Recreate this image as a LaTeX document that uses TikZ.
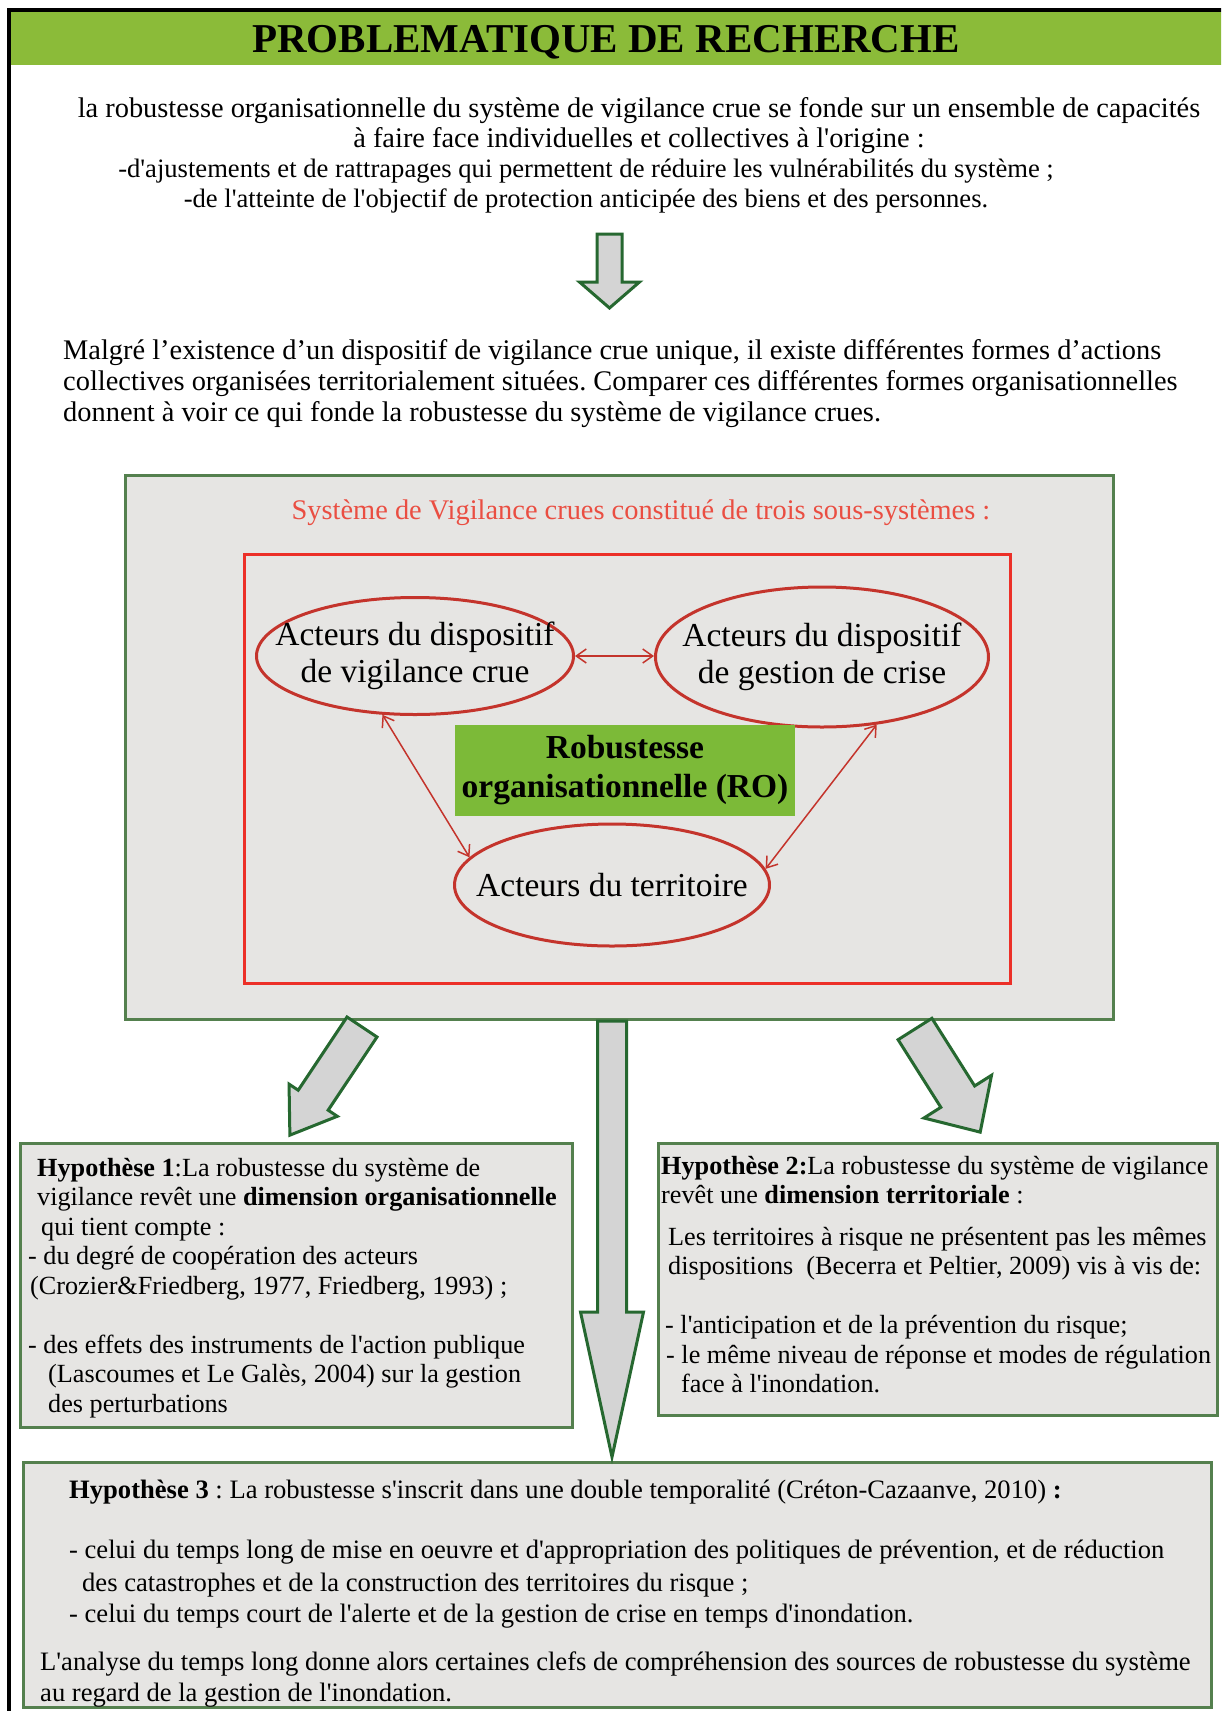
\documentclass[tikz,border=0pt]{standalone}
\usepackage{fontspec}
\setmainfont{Liberation Serif}
\usetikzlibrary{arrows.meta,shapes.geometric}
\definecolor{headgreen}{RGB}{139,187,57}
\definecolor{boxgreen}{RGB}{84,128,78}
\definecolor{arrowgreen}{RGB}{38,104,48}
\definecolor{boxgrey}{RGB}{230,229,227}
\definecolor{arrowgrey}{RGB}{212,212,212}
\definecolor{framered}{RGB}{236,48,40}
\definecolor{titlered}{RGB}{234,78,66}
\definecolor{actorred}{RGB}{196,52,44}
\definecolor{rogreen}{RGB}{124,186,56}
\newcommand{\apos}{\textquotesingle}
\frenchspacing
\tikzset{
  para/.style={font=\fontsize{28.4}{30}\selectfont, inner sep=0pt},
  hyp/.style={font=\fontsize{26.2}{29.5}\selectfont, align=left, anchor=base west, inner sep=0pt},
  greybox/.style={draw=boxgreen, line width=3pt, fill=boxgrey},
  blockarrow/.style={draw=arrowgreen, line width=3pt, fill=arrowgrey, line join=miter},
  actor/.style={draw=actorred, line width=3pt, ellipse, inner sep=0pt},
  actortext/.style={font=\fontsize{33.5}{37}\selectfont, align=center, inner sep=0pt},
  link/.style={{Straight Barb[length=10pt,width=14pt]}-{Straight Barb[length=10pt,width=14pt]}, draw=actorred, line width=1.5pt},
}

\begin{document}
\begin{tikzpicture}[x=1pt, y=-1pt]
  \useasboundingbox (0,0) rectangle (1221,1711);
  \clip (0,0) rectangle (1221,1711);
  \fill[white] (0,0) rectangle (1221,1711);

  % header
  \fill[headgreen] (11,12) rectangle (1230,65);
  \draw[line width=4pt] (9,1730) -- (9,10) -- (1230,10);
  \node at (606,52) [anchor=base, inner sep=0pt, font=\fontsize{41}{41}\selectfont\bfseries] (title) {PROBLEMATIQUE DE RECHERCHE};

  % base of a multi-line node = base of its last line
  \node at (639,147) [para, anchor=base, align=center] (intro) {la robustesse organisationnelle du syst\`eme de vigilance crue se fonde sur un ensemble de capacit\'es\\
    \`a faire face individuelles et collectives \`a l\apos origine :};
  \node at (586,207) [para, anchor=base, align=center, font=\fontsize{26.6}{30}\selectfont] (introlist) {-d\apos ajustements et de rattrapages qui permettent de r\'eduire les vuln\'erabilit\'es du syst\`eme ;\\
    -de l\apos atteinte de l\apos objectif de protection anticip\'ee des biens et des personnes.};

  \node at (63,421) [para, anchor=base west, align=left, font=\fontsize{28.4}{31}\selectfont] (context) {Malgr\'e l’existence d’un dispositif de vigilance crue unique, il existe diff\'erentes formes d’actions\\
    collectives organis\'ees territorialement situ\'ees. Comparer ces diff\'erentes formes organisationnelles\\
    donnent \`a voir ce qui fonde la robustesse du syst\`eme de vigilance crues.};

  % systeme de vigilance
  \draw[greybox] (125,475) rectangle (1113,1019);
  \node at (641,519) [anchor=base, inner sep=0pt, text=titlered, font=\fontsize{28.4}{30}\selectfont] (systitle) {Syst\`eme de Vigilance crues constitu\'e de trois sous-syst\`emes :};
  \draw[framered, line width=3pt] (244,554) rectangle (1010,983);

  \node at (415,656) [actor, minimum width=317pt, minimum height=117pt] (vigil) {};
  \node at (vigil) [actortext] (vigiltext) {Acteurs du dispositif\\de vigilance crue};
  \node at (822,657) [actor, minimum width=333pt, minimum height=140pt] (crise) {};
  \node at (crise) [actortext] (crisetext) {Acteurs du dispositif\\de gestion de crise};
  \node at (612,885) [actor, minimum width=315pt, minimum height=122pt] (terr) {};
  \node at (terr) [actortext] (terrtext) {Acteurs du territoire};
  \node at (625,770) [fill=rogreen, minimum width=340pt, minimum height=91pt, inner sep=0pt, align=center, font=\fontsize{33.5}{39}\selectfont\bfseries] (ro) {Robustesse\\organisationnelle (RO)};

  \draw[link] (vigil.east) -- (crise.west |- vigil.east);
  \draw[link] (vigil.241) -- (terr.169);
  \draw[link] (crise.309) -- (terr.6);

  % hypotheses
  \draw[greybox] (20,1143) rectangle (572,1427);
  \draw[greybox] (658,1143) rectangle (1217,1415);
  \draw[greybox] (23,1462) rectangle (1211,1707);

  \foreach \tx/\ty/\rot/\sw/\hw/\hl/\len in {609.5/234/0/12.5/30/26/74, 362/1027/-33.7/18/29/42/130, 915/1029/32.3/20/40/42/122, 612/1021/0/14.5/31.5/145/436}
    \draw[blockarrow, shift={(\tx,\ty)}, rotate=\rot] (-\sw,0) -- (\sw,0) -- (\sw,\len-\hl) -- (\hw,\len-\hl) -- (0,\len) -- (-\hw,\len-\hl) -- (-\sw,\len-\hl) -- cycle;

  \node at (28,1412) [hyp] (hypone) {\hspace*{9pt}\textbf{Hypoth\`ese 1}:La robustesse du syst\`eme de\\
    \hspace*{9pt}vigilance rev\^et une \textbf{dimension organisationnelle}\\
    \hspace*{13pt}qui tient compte :\\
    - du degr\'e de coop\'eration des acteurs\\
    \hspace*{2pt}(Crozier\&Friedberg, 1977, Friedberg, 1993) ;\\
    \mbox{}\\
    - des effets des instruments de l\apos action publique\\
    \hspace*{20pt}(Lascoumes et Le Gal\`es, 2004) sur la gestion\\
    \hspace*{20pt}des perturbations};

  \node at (661,1392.5) [hyp] (hyptwo) {\textbf{Hypoth\`ese 2:}La robustesse du syst\`eme de vigilance\\
    rev\^et une \textbf{dimension territoriale} :\\[12pt]
    \hspace*{7pt}Les territoires \`a risque ne pr\'esentent pas les m\^emes\\
    \hspace*{7pt}dispositions\ \ (Becerra et Peltier, 2009) vis \`a vis de:\\
    \mbox{}\\
    \hspace*{4pt}- l\apos anticipation et de la pr\'evention du risque;\\
    \hspace*{5pt}- le m\^eme niveau de r\'eponse et modes de r\'egulation\\
    \hspace*{20pt}face \`a l\apos inondation.};

  \node at (40,1701) [hyp, font=\fontsize{26.6}{31}\selectfont] (hypthree) {\hspace*{29pt}\textbf{Hypoth\`ese 3} : La robustesse s\apos inscrit dans une double temporalit\'e (Cr\'eton-Cazaanve, 2010) \textbf{:}\\[29pt]
    \hspace*{29pt}- celui du temps long de mise en oeuvre et d\apos appropriation des politiques de pr\'evention, et de r\'eduction\\[2pt]
    \hspace*{42pt}des catastrophes et de la construction des territoires du risque ;\\
    \hspace*{29pt}- celui du temps court de l\apos alerte et de la gestion de crise en temps d\apos inondation.\\[17pt]
    L\apos analyse du temps long donne alors certaines clefs de compr\'ehension des sources de robustesse du syst\`eme\\
    au regard de la gestion de l\apos inondation.};
\end{tikzpicture}
\end{document}
